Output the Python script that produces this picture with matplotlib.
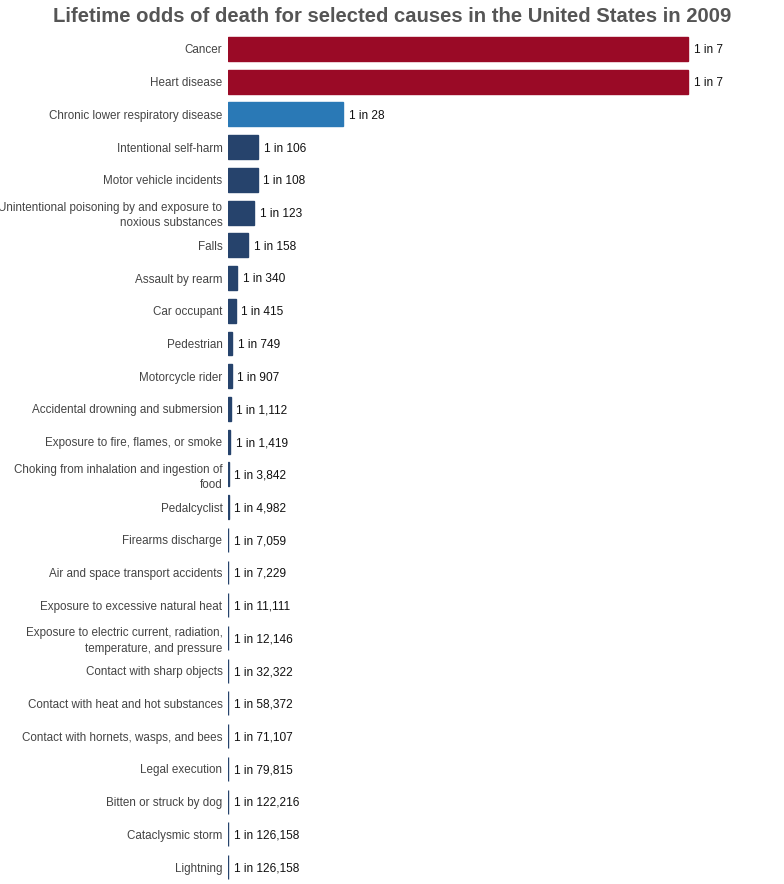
import matplotlib.pyplot as plt

plt.rcParams['font.family'] = ['Liberation Sans', 'DejaVu Sans']

causes = [
    "Cancer", "Heart disease", "Chronic lower respiratory disease",
    "Intentional self-harm", "Motor vehicle incidents",
    "Unintentional poisoning by and exposure to\nnoxious substances",
    "Falls", "Assault by rearm", "Car occupant", "Pedestrian",
    "Motorcycle rider", "Accidental drowning and submersion",
    "Exposure to fire, flames, or smoke",
    "Choking from inhalation and ingestion of\nfood",
    "Pedalcyclist", "Firearms discharge", "Air and space transport accidents",
    "Exposure to excessive natural heat",
    "Exposure to electric current, radiation,\ntemperature, and pressure",
    "Contact with sharp objects", "Contact with heat and hot substances",
    "Contact with hornets, wasps, and bees", "Legal execution",
    "Bitten or struck by dog", "Cataclysmic storm", "Lightning",
]
odds = [7, 7, 28, 106, 108, 123, 158, 340, 415, 749, 907, 1112, 1419, 3842,
        4982, 7059, 7229, 11111, 12146, 32322, 58372, 71107, 79815, 122216,
        126158, 126158]

RED = "#9a0a26"
BLUE = "#2a79b6"
NAVY = "#26436c"
colors = [RED if o <= 7 else BLUE if o <= 28 else NAVY for o in odds]

prob = [1 / o for o in odds]
y = list(range(len(causes)))

fig = plt.figure(figsize=(7.84, 8.84), dpi=100)
ax = fig.add_axes([228 / 784, 1 - 883.4 / 884, 532 / 784, (883.4 - 32.6) / 884])

ax.barh(y, prob, height=0.73, color=colors, edgecolor=colors, linewidth=1.0)

for yi, p, o in zip(y, prob, odds):
    ax.annotate(f"1 in {o:,}", (p, yi), xytext=(4, -1), textcoords="offset points",
                va="center", ha="left", fontsize=8.6, color="#111111")

ax.set_xlim(0, (532 / 460) / 7)
ax.set_ylim(len(causes) - 0.5, -0.5)
ax.set_yticks(y)
ax.set_yticklabels(causes, fontsize=8.4, color="#444444", linespacing=1.35)
ax.tick_params(axis="y", length=0, pad=4)
ax.set_xticks([])
for s in ax.spines.values():
    s.set_visible(False)

fig.text(0.5, 1 - 16 / 884, "Lifetime odds of death for selected causes in the United States in 2009",
         ha="center", va="center", fontsize=14.6, fontweight="bold", color="#555555")

fig.savefig("out.png", dpi=100)
plt.close(fig)
